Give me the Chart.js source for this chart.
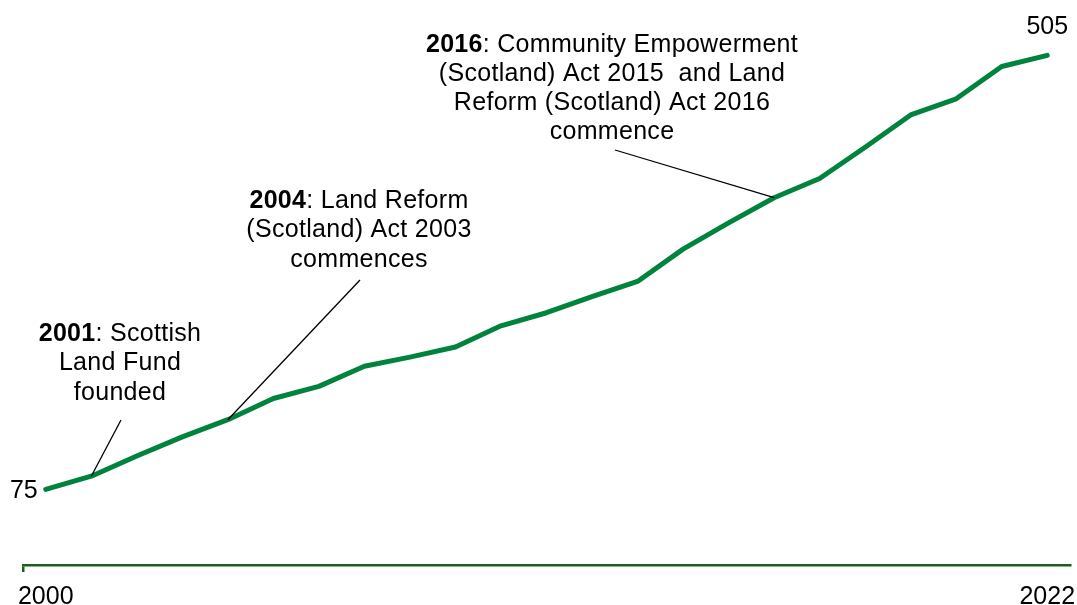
<!DOCTYPE html>
<html>
<head>
<meta charset="utf-8">
<script src="https://cdn.jsdelivr.net/npm/chart.js@4/dist/chart.umd.min.js"></script>
<style>
html,body{margin:0;padding:0;background:#fff;}
#wrap{width:1077px;height:605px;position:relative;}
</style>
</head>
<body>
<div id="wrap"><canvas id="c"></canvas></div>
<script>
const years = ['2000','2001','2002','2003','2004','2005','2006','2007','2008','2009','2010','2011','2012','2013','2014','2015','2016','2017','2018','2019','2020','2021','2022'];
const values = [75,88,108,127,144,165,177,197,206,216,237,250,266,281,313,339,364,383,414,446,462,494,505];
const shownTicks = ['2000','2022'];
const annoYears = ['2001','2004','2016'];
const annoBold = ['2001','2004','2016'];
const annoRest = [
  [': Scottish','Land Fund','founded'],
  [': Land Reform','(Scotland) Act 2003','commences'],
  [': Community Empowerment','(Scotland) Act 2015  and Land','Reform (Scotland) Act 2016','commence']
];
// text placement (pixels): centre x, first line y, line step, leader end
const annoPlace = [
  {cx:120, y0:334, step:29.5, lx:121, ly:420},
  {cx:359, y0:201, step:29.5, lx:360, ly:280},
  {cx:612, y0:45, step:29, lx:615, ly:150}
];
const FONT = '"Liberation Sans", Arial, sans-serif';
const FS = 25;
const lineGreen = '#00843d';
const axisGreen = '#215b1f';

const annoPlugin = {
  id:'anno',
  afterDatasetsDraw(chart){
    const ctx = chart.ctx;
    const xs = chart.scales.x, ys = chart.scales.y;
    ctx.save();
    if ('letterSpacing' in ctx) ctx.letterSpacing = '0.3px';
    annoYears.forEach((yr,i)=>{
      const idx = years.indexOf(yr);
      const px = xs.getPixelForValue(idx), py = ys.getPixelForValue(values[idx]);
      const p = annoPlace[i];
      ctx.strokeStyle = '#000'; ctx.lineWidth = 1.3;
      ctx.beginPath(); ctx.moveTo(px,py); ctx.lineTo(p.lx,p.ly); ctx.stroke();
      ctx.fillStyle = '#000'; ctx.textBaseline = 'middle';
      annoRest[i].forEach((t,j)=>{
        const y = p.y0 + j*p.step;
        if(j===0){
          ctx.font = 'bold '+FS+'px '+FONT;
          const wb = ctx.measureText(annoBold[i]).width;
          ctx.font = FS+'px '+FONT;
          const wr = ctx.measureText(t).width;
          const x0 = p.cx - (wb+wr)/2;
          ctx.textAlign = 'left';
          ctx.font = 'bold '+FS+'px '+FONT;
          ctx.fillText(annoBold[i], x0, y);
          ctx.font = FS+'px '+FONT;
          ctx.fillText(t, x0+wb, y);
        } else {
          ctx.font = FS+'px '+FONT;
          ctx.textAlign = 'center';
          ctx.fillText(t, p.cx, y);
        }
      });
    });
    if ('letterSpacing' in ctx) ctx.letterSpacing = '0px';
    ctx.font = FS+'px '+FONT;
    ctx.fillStyle = '#000';
    const first = 0, last = values.length-1;
    ctx.textAlign = 'right'; ctx.textBaseline = 'middle';
    ctx.fillText(String(values[first]), xs.getPixelForValue(first)-8, ys.getPixelForValue(values[first])+2);
    ctx.textAlign = 'center'; ctx.textBaseline = 'bottom';
    ctx.fillText(String(values[last]), xs.getPixelForValue(last), ys.getPixelForValue(values[last])-16);
    ctx.restore();
  }
};

new Chart(document.getElementById('c'), {
  type:'line',
  data:{
    labels: years,
    datasets:[{
      data: values,
      borderColor: lineGreen,
      borderWidth: 5,
      pointRadius: 0,
      tension: 0,
      fill: false,
      borderJoinStyle:'round',
      borderCapStyle:'round'
    }]
  },
  options:{
    responsive:true,
    maintainAspectRatio:false,
    animation:false,
    layout:{padding:{top:10,left:23,right:7,bottom:0}},
    plugins:{legend:{display:false},tooltip:{enabled:false}},
    scales:{
      x:{
        type:'category',
        offset:true,
        afterFit:(s)=>{ s.height = 40; s.paddingLeft = 0; s.paddingRight = 0; },
        border:{display:true,color:axisGreen,width:2.5},
        grid:{
          display:true,
          offset:true,
          drawOnChartArea:false,
          drawTicks:true,
          tickLength:7,
          lineWidth:2.5,
          color:(c)=> c.index===0 ? axisGreen : 'rgba(0,0,0,0)'
        },
        ticks:{
          autoSkip:false,
          maxRotation:0,
          padding:10,
          color:'#000',
          font:{family:FONT,size:FS},
          callback:function(v,i){const l=years[i];return shownTicks.includes(l)?l:'';}
        }
      },
      y:{
        display:false,
        min:0,
        max:550
      }
    }
  },
  plugins:[annoPlugin]
});
</script>
</body>
</html>
